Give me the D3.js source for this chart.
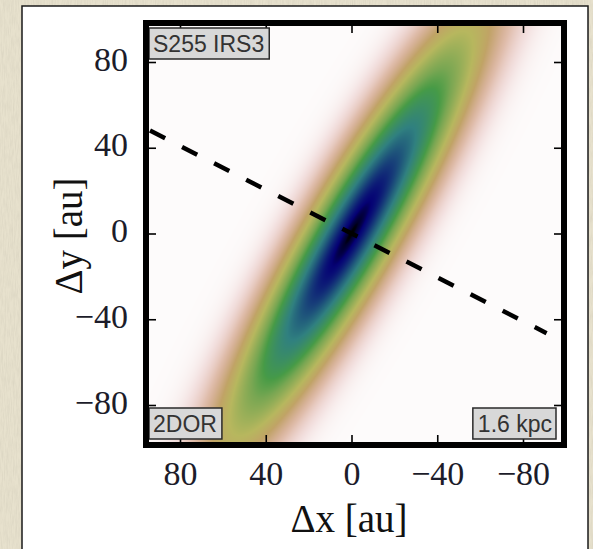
<!DOCTYPE html>
<html>
<head>
<meta charset="utf-8">
<script src="https://cdn.jsdelivr.net/npm/d3@7"></script>
<style>
  html, body { margin: 0; padding: 0; background: #e6e0cc; }
  svg { display: block; }
</style>
</head>
<body>
<svg id="chart"></svg>
<script>
// source model (au, degrees east of north)
const gaussCenter = [0, 0];
const gaussSigma = [70, 12.7];   // major, minor
const gaussPA = [-30];

const xTicks = [80, 40, 0, -40, -80];
const yTicks = [80, 40, 0, -40, -80];

// dashed line end points (au)
const lineX = [94, -91];
const lineY = [48, -46.5];

const cornerLabels = ['S255 IRS3', '2DOR', '1.6 kpc'];
const xLabel = '\u0394x [au]';
const yLabel = '\u0394y [au]';

// gist_earth segment data, used reversed
const earthR = [[0, 0], [0.2824, 0.1882], [0.4588, 0.2714], [0.5490, 0.4719], [0.6980, 0.7176], [0.7882, 0.7553], [1, 0.9922]];
const earthG = [[0, 0], [0.0275, 0], [0.1098, 0.1893], [0.1647, 0.3035], [0.2078, 0.3841], [0.2824, 0.5020], [0.5216, 0.6397],
  [0.6980, 0.7171], [0.7882, 0.6392], [0.8157, 0.6549], [0.8667, 0.6991], [0.8980, 0.7430], [0.9412, 0.8275],
  [0.9647, 0.8816], [0.9961, 0.9733], [1, 0.9843]];
const earthB = [[0, 0], [0.0039, 0.1684], [0.0078, 0.2212], [0.0275, 0.4329], [0.0314, 0.4549], [0.2824, 0.5004],
  [0.4667, 0.2748], [0.5451, 0.3205], [0.7843, 0.3961], [0.8941, 0.6651], [1, 0.9843]];

const width = 593;
const height = 549;

const x = d3.scaleLinear().domain([80, -80]).range([180, 523]);
const y = d3.scaleLinear().domain([80, -80]).range([62, 405]);

// inner plot box (pixels)
const pLeft = 149, pRight = 561, pTop = 26, pBottom = 442;

const svg = d3.select('#chart')
  .attr('width', width)
  .attr('height', height);

// paper texture
const defs = svg.append('defs');
const paper = defs.append('filter').attr('id', 'paper')
  .attr('x', 0).attr('y', 0).attr('width', 1).attr('height', 1);
paper.append('feTurbulence')
  .attr('type', 'fractalNoise')
  .attr('baseFrequency', '0.9 0.08')
  .attr('numOctaves', 3)
  .attr('seed', 7);
paper.append('feColorMatrix')
  .attr('type', 'matrix')
  .attr('values', '0 0 0 0 0.55  0 0 0 0 0.52  0 0 0 0 0.42  0 0 0 -1.6 1.05');

svg.append('rect')
  .attr('width', width).attr('height', height)
  .attr('fill', '#e7e1cd');
svg.append('rect')
  .attr('width', width).attr('height', height)
  .attr('filter', 'url(#paper)')
  .attr('opacity', 0.35);

// white panel
svg.append('rect')
  .attr('x', 22).attr('y', 6)
  .attr('width', 566).attr('height', 560)
  .attr('fill', '#fff')
  .attr('stroke', '#1a1a1a')
  .attr('stroke-width', 1.5);

// colormap
function interp(stops, t) {
  for (let k = 1; k < stops.length; k++) {
    if (t <= stops[k][0]) {
      const a = stops[k - 1], b = stops[k];
      return a[1] + (b[1] - a[1]) * (t - a[0]) / (b[0] - a[0]);
    }
  }
  return stops[stops.length - 1][1];
}
function earthRev(f) {
  const t = 1 - Math.max(0, Math.min(1, f));
  return [interp(earthR, t), interp(earthG, t), interp(earthB, t)].map(v => Math.round(v * 255));
}

// gaussian image on a canvas
const cw = pRight - pLeft, ch = pBottom - pTop;
const canvas = document.createElement('canvas');
canvas.width = cw;
canvas.height = ch;
const ctx = canvas.getContext('2d');
const img = ctx.createImageData(cw, ch);
const pa = gaussPA[0] * Math.PI / 180;
const eMaj = [Math.sin(pa), Math.cos(pa)];
const eMin = [Math.cos(pa), -Math.sin(pa)];
for (let j = 0; j < ch; j++) {
  const Y = y.invert(pTop + j + 0.5) - gaussCenter[1];
  for (let i = 0; i < cw; i++) {
    const X = x.invert(pLeft + i + 0.5) - gaussCenter[0];
    const a = (X * eMaj[0] + Y * eMaj[1]) / gaussSigma[0];
    const b = (X * eMin[0] + Y * eMin[1]) / gaussSigma[1];
    const c = earthRev(Math.exp(-0.5 * (a * a + b * b)));
    const o = (j * cw + i) * 4;
    img.data[o] = c[0];
    img.data[o + 1] = c[1];
    img.data[o + 2] = c[2];
    img.data[o + 3] = 255;
  }
}
ctx.putImageData(img, 0, 0);

svg.append('image')
  .attr('x', pLeft).attr('y', pTop)
  .attr('width', cw).attr('height', ch)
  .attr('href', canvas.toDataURL());

defs.append('clipPath').attr('id', 'plotclip')
  .append('rect')
  .attr('x', pLeft).attr('y', pTop)
  .attr('width', cw).attr('height', ch);

// dashed line
svg.append('path')
  .attr('clip-path', 'url(#plotclip)')
  .attr('d', d3.line().x(d => x(d[0])).y(d => y(d[1]))(d3.zip(lineX, lineY)))
  .attr('fill', 'none')
  .attr('stroke', '#000')
  .attr('stroke-width', 4.5)
  .attr('stroke-dasharray', '17,19');

// centre marker
svg.append('path')
  .attr('d', d3.symbol(d3.symbolCross, 10)())
  .attr('transform', `translate(${x(gaussCenter[0])},${y(gaussCenter[1])})`)
  .attr('fill', '#000');

// axes
const fmt = d3.format('d');
const tickFont = "'Liberation Serif', 'Times New Roman', serif";

const xb = svg.append('g')
  .attr('transform', `translate(0,${pBottom})`)
  .call(d3.axisBottom(x).tickValues(xTicks).tickSize(-7).tickPadding(19).tickFormat(fmt));
const xt = svg.append('g')
  .attr('transform', `translate(0,${pTop})`)
  .call(d3.axisTop(x).tickValues(xTicks).tickSize(-7).tickFormat(''));
const yl = svg.append('g')
  .attr('transform', `translate(${pLeft},0)`)
  .call(d3.axisLeft(y).tickValues(yTicks).tickSize(-7).tickPadding(21).tickFormat(fmt));
const yr = svg.append('g')
  .attr('transform', `translate(${pRight},0)`)
  .call(d3.axisRight(y).tickValues(yTicks).tickSize(-7).tickFormat(''));

[xb, xt, yl, yr].forEach(g => {
  g.select('.domain').remove();
  g.selectAll('.tick line').attr('stroke', '#000').attr('stroke-width', 1.6);
  g.selectAll('.tick text')
    .attr('fill', '#1c1c2a')
    .style('font-family', tickFont)
    .style('font-size', '34px');
});
yl.selectAll('.tick text').attr('dy', '0.24em');

// corner labels
const boxFont = "'Liberation Sans', Arial, sans-serif";
const boxes = [
  { text: cornerLabels[0], x: 153, base: 52, anchor: 'start' },
  { text: cornerLabels[1], x: 153, base: 432, anchor: 'start' },
  { text: cornerLabels[2], x: 552, base: 432, anchor: 'end' }
];
boxes.forEach(b => {
  const g = svg.append('g');
  const rect = g.append('rect');
  const t = g.append('text')
    .attr('x', b.x).attr('y', b.base)
    .attr('text-anchor', b.anchor)
    .attr('fill', '#333')
    .style('font-family', boxFont)
    .style('font-size', '23px')
    .text(b.text);
  const len = t.node().getComputedTextLength();
  const x0 = b.anchor === 'start' ? b.x - 4 : b.x - len - 5;
  rect.attr('x', x0).attr('y', b.base - 24)
    .attr('width', len + 9).attr('height', 31)
    .attr('fill', '#d8d8d8')
    .attr('stroke', '#2a2a2a')
    .attr('stroke-width', 1.5);
});

// frame
svg.append('rect')
  .attr('x', pLeft - 3).attr('y', pTop - 3)
  .attr('width', cw + 6).attr('height', ch + 6)
  .attr('fill', 'none')
  .attr('stroke', '#000')
  .attr('stroke-width', 6);

// axis titles
const labelFont = "'Liberation Serif', 'Times New Roman', serif";
svg.append('text')
  .attr('x', 349).attr('y', 532)
  .attr('text-anchor', 'middle')
  .attr('fill', '#111')
  .style('font-family', labelFont)
  .style('font-size', '39px')
  .text(xLabel);

svg.append('text')
  .attr('transform', 'translate(82,236) rotate(-90)')
  .attr('text-anchor', 'middle')
  .attr('fill', '#111')
  .style('font-family', labelFont)
  .style('font-size', '39px')
  .text(yLabel);
</script>
</body>
</html>
